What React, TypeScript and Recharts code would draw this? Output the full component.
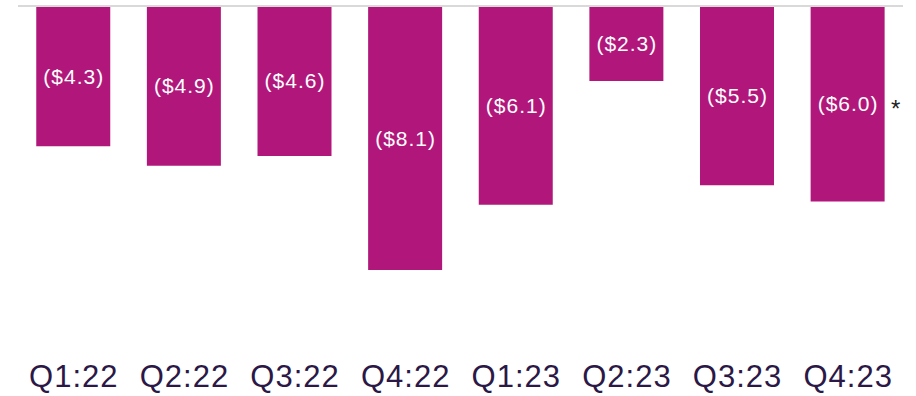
import { BarChart, Bar, XAxis, YAxis, ReferenceLine, LabelList } from 'recharts';

const quarters = ['Q1:22', 'Q2:22', 'Q3:22', 'Q4:22', 'Q1:23', 'Q2:23', 'Q3:23', 'Q4:23'];
const netLoss = [-4.3, -4.9, -4.6, -8.1, -6.1, -2.3, -5.5, -6.0];
const notes = ['', '', '', '', '', '', '', '*'];

const BAR_COLOR = '#B1177B';
const AXIS_COLOR = '#2B1846';
const FONT = '"Liberation Sans", Arial, sans-serif';

const data = quarters.map((q, i) => ({ name: q, value: netLoss[i], note: notes[i] }));

// white "($x.x)" in the middle of each bar, plus an optional footnote mark to its right
const BarLabel = (props: any) => {
  const { x, y, width, height, index } = props;
  const v = netLoss[index];
  const cx = x + width / 2;
  const cy = y + height / 2;
  return (
    <g>
      <text
        x={cx + 0.5}
        y={cy}
        fill="#fff"
        fontSize={21}
        letterSpacing={1}
        fontFamily={FONT}
        textAnchor="middle"
        dominantBaseline="central"
      >
        {`($${Math.abs(v).toFixed(1)})`}
      </text>
      {notes[index] && (
        <text
          x={x + width + 11}
          y={cy + 5}
          fill="#222"
          fontSize={24}
          fontFamily={FONT}
          textAnchor="middle"
          dominantBaseline="central"
        >
          {notes[index]}
        </text>
      )}
    </g>
  );
};

const QuarterTick = (props: any) => {
  const { x, y, payload } = props;
  return (
    <text
      x={x + 0.5}
      y={y}
      dy={47}
      fill={AXIS_COLOR}
      fontSize={31}
      letterSpacing={1}
      fontFamily={FONT}
      textAnchor="middle"
    >
      {payload.value}
    </text>
  );
};

export default function App() {
  return (
    <div style={{ position: 'absolute', left: 0, top: 0, background: '#fff' }}>
      <BarChart
        width={916}
        height={396}
        data={data}
        margin={{ top: 6, right: 13, left: 18, bottom: 0 }}
        barCategoryGap="16.5%"
      >
        <XAxis
          dataKey="name"
          axisLine={false}
          tickLine={false}
          height={64}
          interval={0}
          tick={<QuarterTick />}
        />
        <YAxis hide domain={[-10, 0]} />
        <Bar dataKey="value" fill={BAR_COLOR} isAnimationActive={false}>
          <LabelList dataKey="value" content={<BarLabel />} />
        </Bar>
        <ReferenceLine y={0} stroke="#D9D9D9" strokeWidth={2} ifOverflow="extendDomain" />
      </BarChart>
    </div>
  );
}
